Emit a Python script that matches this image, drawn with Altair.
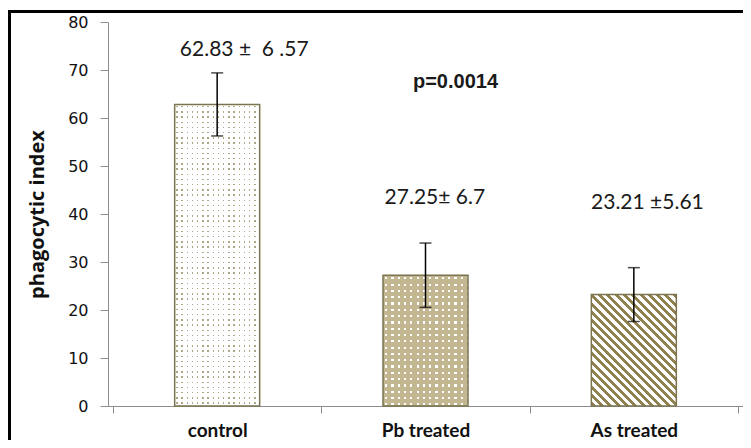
import altair as alt
import pandas as pd

# ---------------- data ----------------
categories = ["control", "Pb treated", "As treated"]
means = [62.83, 27.25, 23.21]
sds = [6.57, 6.7, 5.61]
value_labels = ["62.83 ±\u00a0 6 .57", "27.25± 6.7", "23.21 ±5.61"]
label_x = [0.63, 1.545, 2.565]        # horizontal centre of the value labels (category units)
label_y = [74.2, 43.3, 42.3]          # vertical centre of the value labels (axis units)
y_ticks = [0, 10, 20, 30, 40, 50, 60, 70, 80]
p_text = ["p=0.0014"]
p_x = [1.644]
p_y = [67.5]

# ---------------- layout / style ----------------
W, H = 635, 384
YMAX = 80
BAR_W = 85
PX = H / YMAX
AXIS_GRAY = "#8c8c8c"
EDGE = "#7a7450"
WHITE = "#ffffff"
CLEAR = "rgba(255,255,255,0)"

df = pd.DataFrame({
    "cat": categories,
    "pos": [i + 0.5 for i in range(len(categories))],
    "mean": means,
    "lo": [m - s for m, s in zip(means, sds)],
    "hi": [m + s for m, s in zip(means, sds)],
    "label": value_labels,
    "label_x": label_x,
    "label_y": label_y,
})

label_expr = " : ".join(
    [f"datum.value == {i + 0.5} ? '{c}'" for i, c in enumerate(categories)]
) + " : ''"

x_axis = alt.Axis(
    title=None,
    values=[i * 0.5 for i in range(2 * len(categories) + 1)],
    labelExpr=label_expr,
    labelOverlap=False,
    labelFont="Lato", labelFontSize=19, labelFontWeight="bold", labelColor="#111111",
    labelPadding=8,
    tickSize=7, tickColor=AXIS_GRAY,
    tickOpacity={"condition": {"test": "datum.value % 1 === 0", "value": 1}, "value": 0},
    domainColor=AXIS_GRAY, grid=False,
)
y_axis = alt.Axis(
    title="phagocytic index",
    values=y_ticks,
    labelFont="DejaVu Sans", labelFontSize=16, labelColor="#111111", labelPadding=12,
    tickSize=8, tickColor=AXIS_GRAY, domainColor=AXIS_GRAY, grid=False,
    titleFont="Open Sans", titleFontSize=20, titleFontWeight="bold", titleColor="#111111",
    titlePadding=20,
)
x_scale = alt.Scale(domain=[0, len(categories)], nice=False, zero=False)
y_scale = alt.Scale(domain=[0, YMAX], nice=False)


def X(field="pos"):
    return alt.X(f"{field}:Q", scale=x_scale, axis=x_axis)


def Y(field):
    return alt.Y(f"{field}:Q", scale=y_scale, axis=y_axis)


def band_stops(total, period, on, c_on, c_off, phase=0.0):
    stops = [{"offset": 0, "color": c_off}]
    k = 0
    while True:
        a = phase + k * period
        if a >= total:
            break
        b = min(a + on, total)
        a_, b_ = round(a / total, 5), round(b / total, 5)
        stops += [
            {"offset": a_, "color": c_off},
            {"offset": a_, "color": c_on},
            {"offset": b_, "color": c_on},
            {"offset": b_, "color": c_off},
        ]
        k += 1
    stops.append({"offset": 1, "color": c_off})
    return stops


def grad(x1, y1, x2, y2, stops):
    return {"gradient": "linear", "x1": x1, "y1": y1, "x2": x2, "y2": y2, "stops": stops}


base = alt.Chart(df)


def bar_layer(cat, fill):
    return base.transform_filter(alt.datum.cat == cat).mark_bar(
        orient="vertical", size=BAR_W, fill=fill, strokeWidth=0
    ).encode(x=X(), y=Y("mean"))


layers = []

# control: small khaki dots on white
h0 = means[0] * PX
layers.append(bar_layer("control", grad(0, 0, 1, 0, band_stops(BAR_W, 5.2, 1.5, "#aea682", WHITE, 1.5))))
layers.append(bar_layer("control", grad(0, 0, 0, 1, band_stops(h0, 5.2, 1.5, CLEAR, WHITE, 1.5))))

# Pb treated: white dots on tan
h1 = means[1] * PX
TAN = "#c2b791"
layers.append(bar_layer("Pb treated", grad(0, 0, 1, 0, band_stops(BAR_W, 6.3, 2.2, WHITE, TAN, 2.0))))
layers.append(bar_layer("Pb treated", grad(0, 0, 0, 1, band_stops(h1, 6.3, 2.2, CLEAR, TAN, 2.0))))

# As treated: diagonal olive stripes at 45 degrees
h2 = means[2] * PX
a = (BAR_W + h2) / (BAR_W ** 2 + h2 ** 2)
layers.append(bar_layer(
    "As treated",
    grad(0, 1, round(a * BAR_W, 5), round(1 - a * h2, 5),
         band_stops(BAR_W + h2, 8.3, 4.0, "#8f8150", WHITE, 1.0)),
))

# outlines
layers.append(base.mark_bar(orient="vertical", size=BAR_W, fill="transparent",
                            stroke=EDGE, strokeWidth=1.5).encode(x=X(), y=Y("mean")))

# error bars
layers.append(base.mark_rule(color="black", strokeWidth=1.5).encode(
    x=X(), y=Y("lo"), y2=alt.Y2("hi")))
layers.append(base.mark_tick(orient="horizontal", size=12, thickness=1.5, color="black").encode(
    x=X(), y=Y("lo")))
layers.append(base.mark_tick(orient="horizontal", size=12, thickness=1.5, color="black").encode(
    x=X(), y=Y("hi")))

# value labels
layers.append(base.mark_text(font="Lato", fontSize=21, color="#1a1a1a", baseline="middle").encode(
    x=X("label_x"), y=Y("label_y"), text="label:N"))

# p-value
pdf = pd.DataFrame({"t": p_text, "x": p_x, "y": p_y})
layers.append(alt.Chart(pdf).mark_text(font="Liberation Sans", fontSize=20, fontWeight="bold",
                                       color="#1a1a1a", baseline="middle").encode(
    x=X("x"), y=Y("y"), text="t:N"))

# outer frame of the figure
layers.append(alt.Chart(alt.Data(values=[{"f": 1}])).mark_rect(
    fill="transparent", stroke="black", strokeWidth=3).encode(
    x=alt.value(-98.5), x2=alt.value(W + 80), y=alt.value(-10.5), y2=alt.value(H + 80)))

chart = alt.layer(*layers).properties(
    width=W, height=H,
    padding={"left": 100, "top": 14, "right": 0, "bottom": 34},
    autosize=alt.AutoSizeParams(type="none"),
    background="white",
).configure_view(stroke=None)

chart.save("out.html", embed_options={"renderer": "svg", "actions": False})
